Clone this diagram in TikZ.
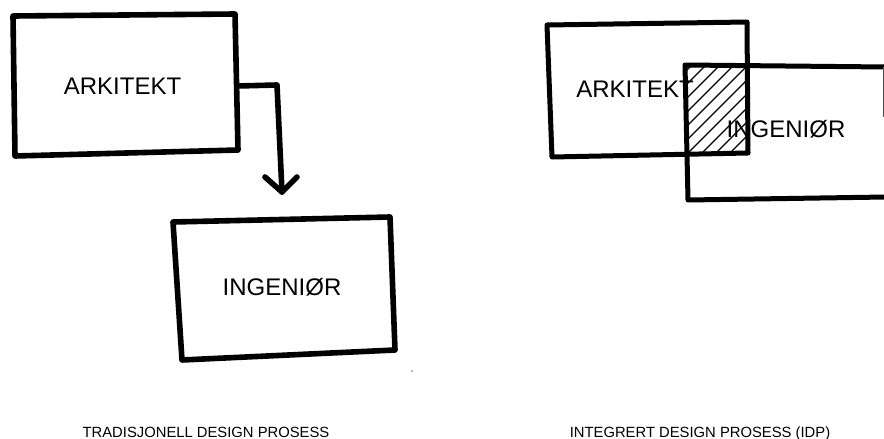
\documentclass[tikz,border=0pt]{standalone}
\usepackage{fontspec}
\setmainfont{Liberation Sans}
\begin{document}
\begin{tikzpicture}[x=1pt,y=-1pt,
  boxline/.style={draw=black,line width=5.6pt,line join=round,line cap=round},
  boxline2/.style={draw=black,line width=5pt,line join=round,line cap=round},
  thinline/.style={draw=black!70,line width=0.9pt},
  hatchline/.style={draw=black,line width=1.3pt},
  bigtext/.style={anchor=base,inner sep=0pt,font=\fontsize{24}{28}\selectfont},
  captext/.style={anchor=base,inner sep=0pt,font=\fontsize{14.8}{17}\selectfont}]
\useasboundingbox (0,0) rectangle (884,439);

% ---------- left: traditional ----------
\node[bigtext] (arkL) at (122.5,94) {ARKITEKT};
\node[bigtext] (ingL) at (282,295) {INGENIØR};
\draw[boxline] (13,16) -- (235,14) -- (238,150) -- (15,156) -- cycle;
\draw[boxline] (173,222) -- (390,217) -- (395,350) -- (182,360) -- cycle;
\coordinate (aR) at (237,86);
\coordinate (bend) at (277,85);
\coordinate (tip) at (282,192);
\draw[boxline] (aR) -- (bend) -- (tip);
\draw[boxline] (265,177) -- (tip) -- (297,177);
\fill[black!55] (412,371) circle (0.9pt);
\node[captext] (capL) at (206,437) {TRADISJONELL DESIGN PROSESS};

% ---------- right: integrated ----------
\node[bigtext] (arkR) at (635,97) {ARKITEKT};
\node[bigtext] (ingR) at (786,137) {INGENIØR};
\begin{scope}
  \clip (685,65) rectangle (748,153);
  \foreach \k in {604,618,...,760}
    \draw[hatchline] (\k,153) -- ++(110,-110);
\end{scope}
\draw[boxline2] (547,25) -- (747,22) -- (748,153) -- (552,157) -- cycle;
\draw[boxline2] (886,67) -- (685,65) -- (688,200) -- (886,197);
\draw[thinline] (883,67) -- (883,117);
\node[captext] (capR) at (700,437) {INTEGRERT DESIGN PROSESS (IDP)};
\end{tikzpicture}
\end{document}
